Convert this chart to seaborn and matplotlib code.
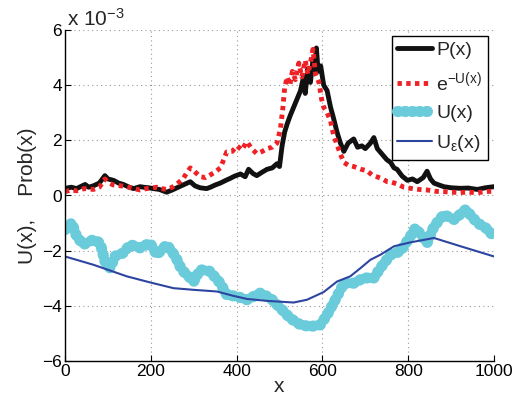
import numpy as np
import pandas as pd
import matplotlib
matplotlib.use("Agg")
import matplotlib.pyplot as plt
import seaborn as sns

# ---------------- data ----------------
p_x = [0, 15, 27, 40, 47, 55, 66, 80, 93, 100, 113, 125, 136, 150, 160, 175, 183, 195, 206,
       220, 237, 250, 261, 275, 292, 303, 315, 330, 339, 350, 362, 375, 385, 395, 409, 420,
       428, 438, 447, 460, 471, 483, 494, 500, 506, 512, 518, 525, 533, 541, 549, 556, 560,
       566, 572, 578, 582, 586, 590, 596, 603, 611, 619, 626, 634, 642, 650, 660, 673, 682,
       692, 700, 712, 720, 728, 739, 750, 759, 767, 774, 786, 798, 810, 821, 835, 844, 852,
       860, 872, 883, 900, 922, 940, 961, 980, 1000]
p_y = [0.26, 0.30, 0.25, 0.35, 0.40, 0.30, 0.35, 0.45, 0.72, 0.60, 0.55, 0.45, 0.40, 0.30,
       0.25, 0.32, 0.30, 0.28, 0.25, 0.22, 0.12, 0.20, 0.28, 0.38, 0.50, 0.35, 0.28, 0.25,
       0.30, 0.38, 0.45, 0.55, 0.62, 0.70, 0.78, 0.68, 0.95, 0.80, 0.72, 0.85, 0.95, 1.00,
       1.15, 1.05, 1.80, 2.30, 2.60, 2.90, 3.20, 3.50, 3.80, 4.30, 3.70, 4.60, 4.10, 4.90,
       4.50, 5.35, 4.50, 4.70, 4.00, 3.80, 3.20, 2.80, 2.30, 1.90, 1.60, 1.90, 2.05, 1.75,
       1.80, 1.70, 1.90, 2.10, 1.70, 1.50, 1.30, 1.20, 1.00, 0.95, 0.70, 0.55, 0.60, 0.50,
       0.65, 0.88, 0.60, 0.45, 0.38, 0.32, 0.28, 0.26, 0.27, 0.22, 0.28, 0.32]

e_x = [0, 15, 27, 45, 66, 80, 93, 103, 113, 130, 144, 160, 175, 190, 214, 225, 237, 250,
       261, 275, 285, 292, 300, 315, 328, 339, 350, 362, 370, 377, 390, 401, 412, 424, 435,
       447, 460, 471, 483, 494, 502, 508, 512, 518, 524, 530, 537, 545, 552, 560, 566, 572,
       578, 584, 592, 598, 603, 611, 619, 626, 634, 642, 650, 660, 673, 690, 704, 715, 727,
       740, 751, 762, 774, 790, 805, 825, 844, 865, 883, 900, 922, 940, 961, 980, 1000]
e_y = [0.14, 0.20, 0.17, 0.25, 0.22, 0.30, 0.60, 0.45, 0.38, 0.35, 0.32, 0.25, 0.20, 0.25,
       0.30, 0.25, 0.22, 0.30, 0.42, 0.60, 0.85, 1.00, 0.90, 0.68, 0.65, 0.75, 0.85, 1.00,
       1.30, 1.58, 1.60, 1.80, 1.65, 1.95, 1.70, 1.52, 1.60, 1.70, 1.75, 1.90, 2.40, 3.20,
       3.90, 4.30, 4.00, 4.50, 4.20, 4.80, 4.30, 4.90, 4.40, 4.80, 5.30, 4.40, 4.10, 3.50,
       3.20, 3.00, 2.70, 2.20, 1.85, 1.50, 1.20, 1.10, 1.05, 0.95, 0.90, 0.75, 0.68, 0.60,
       0.50, 0.48, 0.42, 0.30, 0.26, 0.22, 0.20, 0.15, 0.14, 0.12, 0.11, 0.12, 0.10, 0.14,
       0.16]

u_x = [0, 16, 27, 43, 66, 82, 93, 105, 117, 136, 152, 175, 198, 214, 237, 257, 272, 288,
       300, 315, 338, 362, 377, 401, 424, 455, 479, 502, 525, 549, 572, 595, 611, 630, 650,
       673, 696, 720, 735, 759, 782, 805, 817, 833, 844, 860, 883, 907, 934, 961, 981, 1000]
u_y = [-1.24, -0.99, -1.48, -1.78, -1.60, -1.72, -2.39, -2.63, -2.20, -2.08, -1.78, -1.90,
       -1.72, -2.15, -1.78, -2.20, -2.69, -2.93, -3.12, -2.69, -2.75, -3.18, -3.60, -3.66,
       -3.78, -3.54, -3.72, -4.08, -4.45, -4.69, -4.75, -4.69, -4.33, -3.78, -3.18, -3.18,
       -2.99, -2.99, -2.63, -2.15, -2.02, -1.48, -1.18, -1.48, -1.72, -1.12, -0.69, -0.87,
       -0.51, -0.99, -1.18, -1.48]

ue_x = [0, 66, 144, 198, 253, 300, 354, 393, 424, 471, 533, 564, 603, 634, 665, 689, 712,
        735, 767, 805, 860, 922, 1000]
ue_y = [-2.21, -2.51, -2.93, -3.15, -3.36, -3.42, -3.48, -3.64, -3.75, -3.82, -3.88, -3.78,
        -3.50, -3.12, -2.93, -2.63, -2.33, -2.15, -1.84, -1.70, -1.54, -1.84, -2.21]

x_ticks = [0, 200, 400, 600, 800, 1000]
y_ticks = [-6, -4, -2, 0, 2, 4, 6]

# ---------------- style ----------------
sns.set_style("ticks")
plt.rcParams['font.family'] = ['Liberation Sans', 'DejaVu Sans']
plt.rcParams['mathtext.fontset'] = 'custom'
plt.rcParams['mathtext.rm'] = 'Liberation Sans'
plt.rcParams['mathtext.it'] = 'Liberation Sans'
plt.rcParams['mathtext.bf'] = 'Liberation Sans:bold'

fig = plt.figure(figsize=(5.2, 4.15), dpi=100)
ax = fig.add_axes([65/520, 1-361/415, (494-65)/520, (361-30)/415])

c_black = '#111111'
c_red = '#EE2226'
c_cyan = '#6ACBDB'
c_blue = '#2D45A0'

df_p = pd.DataFrame({'x': p_x, 'y': p_y})
df_e = pd.DataFrame({'x': e_x, 'y': e_y})
df_u = pd.DataFrame({'x': u_x, 'y': u_y})
df_ue = pd.DataFrame({'x': ue_x, 'y': ue_y})

sns.lineplot(data=df_p, x='x', y='y', ax=ax, color=c_black, lw=3.5,
             label='P(x)')
sns.lineplot(data=df_e, x='x', y='y', ax=ax, color=c_red, lw=3.5,
             linestyle=(0, (0.9, 0.9)), label=r'$\mathrm{e}^{-U(x)}$')
sns.lineplot(data=df_u, x='x', y='y', ax=ax, color=c_cyan, lw=8,
             linestyle=(0, (0.1, 0.55)), dash_capstyle='round',
             solid_capstyle='round', label='U(x)')
sns.lineplot(data=df_ue, x='x', y='y', ax=ax, color=c_blue, lw=1.5,
             label=r'U$_\varepsilon$(x)')

ax.set_xlim(0, 1000)
ax.set_ylim(-6, 6)
ax.set_xticks(x_ticks)
ax.set_yticks(y_ticks)
ax.tick_params(direction='in', length=4, width=0.8, labelsize=12.5, colors='black', pad=2)
ax.grid(True, linestyle=(0, (1, 3)), color='#999999', linewidth=0.8)
for s in ['top', 'right']:
    ax.spines[s].set_visible(False)
for s in ['left', 'bottom']:
    ax.spines[s].set_color('black')
    ax.spines[s].set_linewidth(1.0)

ax.set_xlabel('x', fontsize=15, labelpad=-1)
ax.set_ylabel('U(x),    Prob(x)', fontsize=15, labelpad=4)
ax.text(0.005, 1.012, r'x 10$^{-3}$', transform=ax.transAxes, fontsize=15,
        ha='left', va='baseline')

leg = ax.legend(loc='upper right', fontsize=14, frameon=True, fancybox=False,
                edgecolor='black', framealpha=1, handlelength=1.8, handletextpad=0.2,
                borderpad=0.3, labelspacing=0.55, borderaxespad=0.3)
leg.get_frame().set_linewidth(1.0)

fig.savefig('out.png', dpi=100)
